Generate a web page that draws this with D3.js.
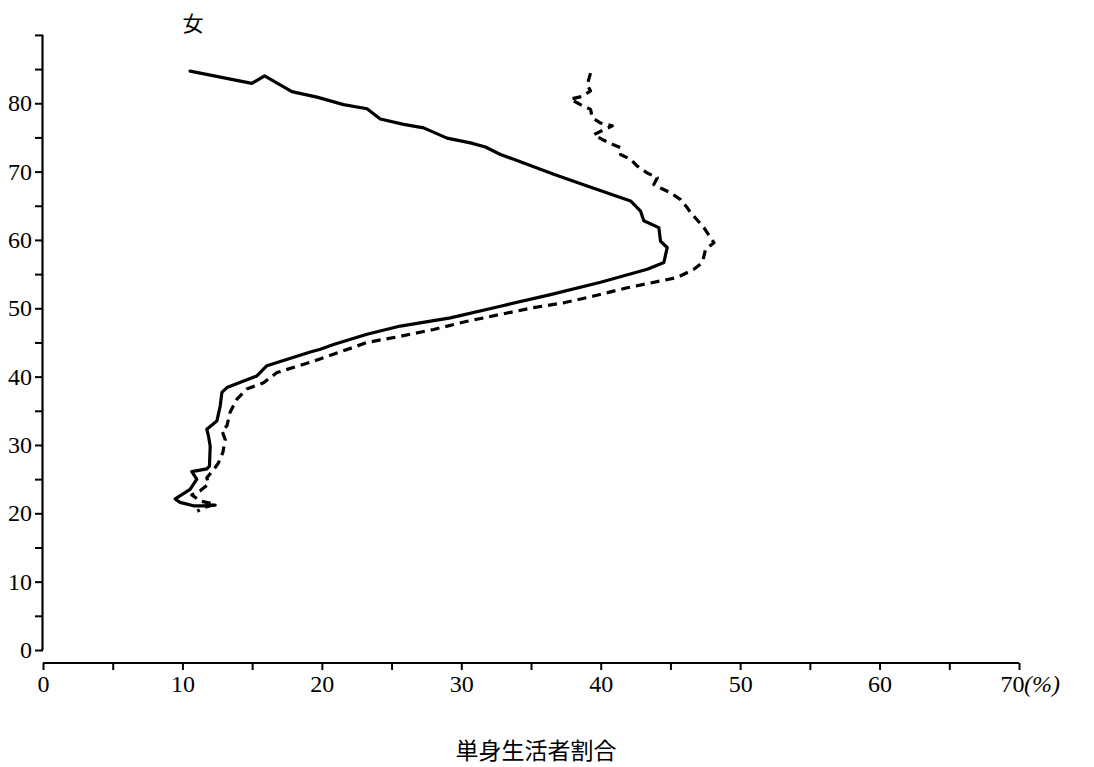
<!DOCTYPE html>
<html>
<head>
<meta charset="utf-8">
<script src="https://cdn.jsdelivr.net/npm/d3@7"></script>
<style>
  html, body { margin: 0; padding: 0; background: #fff; }
  svg { display: block; }
</style>
</head>
<body>
<svg id="chart" width="1094" height="767"></svg>
<script>
// ---- data (age vs. share of single-living persons, %) ----
const solidAge = [84.7, 82.9, 84.0, 81.7, 80.9, 79.8, 79.2, 77.7, 76.9, 76.4, 74.9, 74.2, 73.6, 72.5, 71.8, 69.6, 67.9, 65.7, 64.2, 62.8, 61.8, 59.8, 58.9, 56.7, 55.7, 53.8, 52.0, 50.3, 48.6, 47.4, 46.2, 44.7, 44.0, 43.6, 41.6, 40.1, 38.4, 37.7, 35.7, 33.5, 32.3, 31.3, 29.8, 26.9, 26.5, 26.1, 25.0, 23.5, 22.1, 21.6, 21.1, 21.1, 21.2];
const solidPct = [10.55, 14.98, 15.89, 17.85, 19.65, 21.56, 23.24, 24.19, 25.87, 27.30, 28.98, 30.65, 31.73, 32.81, 33.76, 36.63, 39.03, 42.14, 42.86, 43.09, 44.17, 44.29, 44.77, 44.53, 43.34, 39.99, 36.40, 32.81, 29.22, 25.63, 23.24, 20.84, 19.89, 19.17, 16.06, 15.34, 13.19, 12.83, 12.71, 12.47, 11.75, 11.87, 11.99, 11.94, 11.75, 10.67, 11.03, 10.55, 9.48, 9.83, 10.79, 11.51, 12.35];

const dashAge = [84.4, 82.7, 81.8, 81.0, 80.6, 79.8, 79.1, 77.9, 77.1, 76.7, 75.4, 74.7, 74.0, 73.5, 72.5, 71.8, 70.8, 69.8, 69.1, 68.1, 67.6, 66.9, 65.9, 64.7, 64.0, 61.8, 59.6, 58.6, 56.7, 55.7, 54.5, 54.0, 53.0, 51.8, 50.8, 50.1, 49.1, 48.1, 46.9, 45.9, 45.0, 44.3, 42.1, 40.6, 39.1, 38.2, 36.7, 34.8, 32.8, 32.1, 30.8, 28.9, 27.4, 26.7, 25.2, 24.3, 23.3, 22.7, 21.8, 21.3, 20.9, 20.3];
const dashPct = [39.27, 39.03, 39.27, 38.67, 37.83, 38.55, 39.27, 39.39, 39.99, 40.83, 39.50, 40.11, 40.83, 41.42, 41.42, 42.14, 42.62, 43.34, 44.06, 43.81, 44.29, 45.01, 45.73, 46.21, 46.45, 47.40, 48.12, 47.52, 47.29, 46.68, 45.49, 44.29, 41.90, 39.51, 37.35, 35.20, 32.81, 30.42, 28.02, 25.63, 23.24, 22.28, 19.17, 16.78, 15.82, 14.62, 13.91, 13.42, 13.19, 12.83, 13.07, 12.90, 12.59, 12.35, 11.75, 11.87, 11.27, 10.67, 11.27, 12.35, 11.63, 11.06];

const xTicks = [0, 5, 10, 15, 20, 25, 30, 35, 40, 45, 50, 55, 60, 65, 70];
const xTickLabels = ["0", "", "10", "", "20", "", "30", "", "40", "", "50", "", "60", "", "70"];
const yTicks = [0, 5, 10, 15, 20, 25, 30, 35, 40, 45, 50, 55, 60, 65, 70, 75, 80, 85, 90];
const yTickLabels = ["0", "", "10", "", "20", "", "30", "", "40", "", "50", "", "60", "", "70", "", "80", "", ""];

const titleText = "女";
const xTitle = "単身生活者割合";
const xUnit = "(%)";

// ---- drawing ----
const svg = d3.select("#chart");
const x = d3.scaleLinear().domain([0, 70]).range([43, 1019]);
const y = d3.scaleLinear().domain([0, 90]).range([650, 34.9]);

const numFont = "'Liberation Serif', 'DejaVu Serif', serif";

// Y axis
const yAxis = d3.axisLeft(y)
  .tickValues(yTicks)
  .tickSize(8)
  .tickPadding(3)
  .tickFormat((d, i) => yTickLabels[i]);
const gy = svg.append("g").attr("transform", "translate(43,0)").call(yAxis);
gy.select(".domain").attr("d", `M-0.5,${y(90)}V${y(0)}`).attr("stroke", "#000").attr("stroke-width", 2.2);
gy.selectAll(".tick line").attr("stroke", "#000").attr("stroke-width", 2);
gy.selectAll(".tick text")
  .attr("font-family", numFont)
  .attr("font-size", 24)
  .attr("fill", "#000");

// X axis
const xAxis = d3.axisBottom(x)
  .tickValues(xTicks)
  .tickSize(7)
  .tickPadding(5)
  .tickFormat((d, i) => xTickLabels[i]);
const gx = svg.append("g").attr("transform", "translate(0,663)").call(xAxis);
gx.select(".domain").attr("d", `M${x(0)},0H${x(70)}`).attr("stroke", "#000").attr("stroke-width", 2.2);
gx.selectAll(".tick line").attr("stroke", "#000").attr("stroke-width", 2);
gx.selectAll(".tick text")
  .attr("font-family", numFont)
  .attr("font-size", 24)
  .attr("fill", "#000")
  .attr("dx", d => d === 70 ? -7 : 0);

// unit
svg.append("text")
  .attr("x", x(70) + 5)
  .attr("y", 692)
  .attr("font-family", numFont)
  .attr("font-size", 24)
  .attr("font-style", "italic")
  .attr("fill", "#000")
  .text(xUnit);

// Lines
const line = d3.line()
  .x(d => x(d[1]))
  .y(d => y(d[0]));

const solidData = solidAge.map((a, i) => [a, solidPct[i]]);
const dashData = dashAge.map((a, i) => [a, dashPct[i]]);

svg.append("path")
  .datum(solidData)
  .attr("d", line)
  .attr("fill", "none")
  .attr("stroke", "#000")
  .attr("stroke-width", 3.2)
  .attr("stroke-linejoin", "round")
  .attr("stroke-linecap", "round");

svg.append("path")
  .datum(dashData)
  .attr("d", line)
  .attr("fill", "none")
  .attr("stroke", "#000")
  .attr("stroke-width", 3.2)
  .attr("stroke-dasharray", "9,6")
  .attr("stroke-linejoin", "round");

// Titles
svg.append("text")
  .attr("x", 193)
  .attr("y", 31)
  .attr("text-anchor", "middle")
  .attr("font-family", "'Noto Sans CJK JP', sans-serif")
  .attr("font-size", 21)
  .attr("fill", "#000")
  .text(titleText);

svg.append("text")
  .attr("x", 536)
  .attr("y", 759)
  .attr("text-anchor", "middle")
  .attr("font-family", "'Noto Sans CJK JP', sans-serif")
  .attr("font-size", 23)
  .attr("fill", "#000")
  .text(xTitle);
</script>
</body>
</html>
